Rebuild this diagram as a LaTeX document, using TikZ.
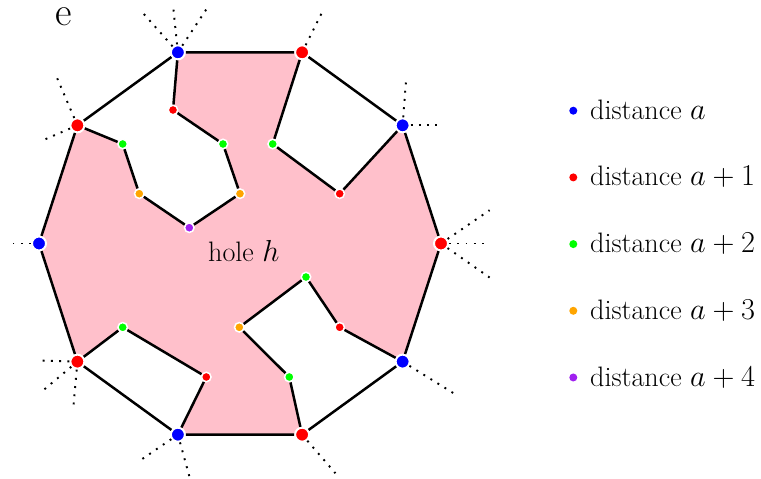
\documentclass[tikz,border=0pt]{standalone}
\usetikzlibrary{backgrounds}
\definecolor{distzero}{HTML}{0000FF}
\definecolor{distone}{HTML}{FF0000}
\definecolor{disttwo}{HTML}{00FF00}
\definecolor{distthree}{HTML}{FFA500}
\definecolor{distfour}{HTML}{A020F0}
\definecolor{holecol}{HTML}{FFC0CB}

\begin{document}
\begin{tikzpicture}[
    x=0.02cm, y=0.02cm,
    bigdot/.style={
        circle, draw=white, line width=0.04cm,
        minimum size=0.28cm, inner sep=0pt,
    },
    smalldot/.style={
        circle, draw=white, line width=0.03cm,
        minimum size=0.19cm, inner sep=0pt,
    },
    keydot/.style={circle, minimum size=0.16cm, inner sep=0pt},
    edge/.style={line width=0.05cm, draw=black},
    ray/.style={line width=1.1pt, dash pattern=on 1.1pt off 3.6pt},
    lbl/.style={font=\fontsize{16}{19}\selectfont, inner sep=0pt},
]
\useasboundingbox (-240,-235.5) rectangle (521,243.5);

% === Outer decagon ===
\foreach \k/\col in {0/distone, 1/distzero, 2/distone, 3/distzero, 4/distone,
                     5/distzero, 6/distone, 7/distzero, 8/distone, 9/distzero}
    \node[bigdot, fill=\col] (v\k) at ({36*\k}:201) {};

% === Inner chains ===
% top left pocket
\node[smalldot, fill=distone]   (a1) at (-67, 133.5) {};
\node[smalldot, fill=disttwo]   (a2) at (-17, 99.5) {};
\node[smalldot, fill=distthree] (a3) at (0, 49.8) {};
\node[smalldot, fill=distfour]  (a4) at (-50.7, 15.8) {};
\node[smalldot, fill=distthree] (a5) at (-100.7, 49.8) {};
\node[smalldot, fill=disttwo]   (a6) at (-117.3, 99.5) {};
% top right pocket
\node[smalldot, fill=disttwo] (b1) at (32.7, 99.5) {};
\node[smalldot, fill=distone] (b2) at (99.7, 49.8) {};
% bottom right pocket
\node[smalldot, fill=distone]   (c1) at (99.7, -83.8) {};
\node[smalldot, fill=disttwo]   (c2) at (66, -33.5) {};
\node[smalldot, fill=distthree] (c3) at (-0.7, -83.8) {};
\node[smalldot, fill=disttwo]   (c4) at (49.3, -133.5) {};
% bottom left pocket
\node[smalldot, fill=disttwo] (d1) at (-117.3, -83.8) {};
\node[smalldot, fill=distone] (d2) at (-33.7, -133.5) {};

% === Hole ===
\begin{scope}[on background layer]
\fill[holecol] (v3.center) -- (v2.center) -- (b1.center) -- (b2.center)
    -- (v1.center) -- (v0.center) -- (v9.center) -- (c1.center) -- (c2.center)
    -- (c3.center) -- (c4.center) -- (v8.center) -- (v7.center) -- (d2.center)
    -- (d1.center) -- (v6.center) -- (v5.center) -- (v4.center) -- (a6.center)
    -- (a5.center) -- (a4.center) -- (a3.center) -- (a2.center) -- (a1.center)
    -- cycle;
\end{scope}
\node[lbl, anchor=base] (hole) at (3.8, -18.2) {hole $h$};

% === Edges ===
\draw[edge] (v0) -- (v1) -- (v2) -- (v3) -- (v4) -- (v5) -- (v6) -- (v7)
    -- (v8) -- (v9) -- (v0);
\draw[edge] (v3) -- (a1) -- (a2) -- (a3) -- (a4) -- (a5) -- (a6) -- (v4);
\draw[edge] (v2) -- (b1) -- (b2) -- (v1);
\draw[edge] (v9) -- (c1) -- (c2) -- (c3) -- (c4) -- (v8);
\draw[edge] (v6) -- (d1) -- (d2) -- (v7);

% === Outgoing edges (dotted) ===
\foreach \v/\a/\r [count=\i] in {v3/131.6/51.8, v3/95.9/43, v3/56.5/51.2,
        v2/63.5/43.2, v1/85.6/44.4, v1/0/34.4, v0/34.4/58.9, v0/0/42.6,
        v0/-35/59.3, v9/-31.8/60, v8/-49.2/51, v7/214.3/43.6, v7/285.4/43.6,
        v6/178.4/35.3, v6/220/44, v6/265/43.5, v5/180/27.3, v4/113.2/51.6,
        v4/203.4/40.3} {
    \path (\v) ++(\a:\r) coordinate (r\i);
    \draw[ray] (\v) -- (r\i);
}

% === Panel label ===
\node[font=\fontsize{23}{26}\selectfont, inner sep=0pt] (panel) at (-176.3, 226.5) {e};

% === Legend ===
\foreach \col/\txt [count=\i] in {distzero/{$a$}, distone/{$a+1$},
        disttwo/{$a+2$}, distthree/{$a+3$}, distfour/{$a+4$}} {
    \node[keydot, fill=\col] (L\i) at (333.3, {132.8-66.7*(\i-1)}) {};
    \node[lbl, anchor=base west] (T\i) at ([xshift=0.33cm, yshift=-0.172cm]L\i.center)
        {distance \txt};
}

\end{tikzpicture}
\end{document}
